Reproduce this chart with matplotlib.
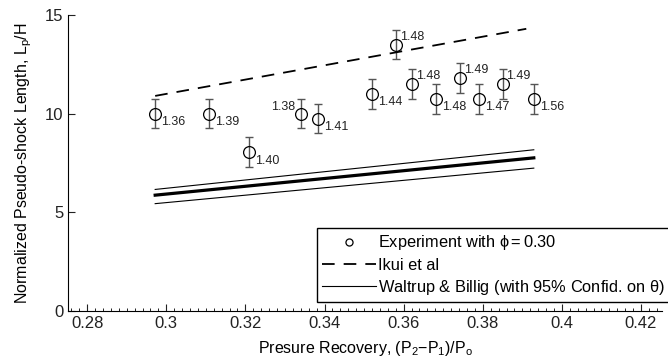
import numpy as np
import matplotlib
matplotlib.use('Agg')
import matplotlib.pyplot as plt

plt.rcParams['font.family'] = ['Liberation Sans', 'DejaVu Sans']
plt.rcParams['mathtext.fontset'] = 'custom'
plt.rcParams['mathtext.rm'] = 'Liberation Sans'
plt.rcParams['mathtext.it'] = 'Liberation Sans'

# Experiment points
x_exp = np.array([0.2972, 0.3109, 0.3209, 0.3340, 0.3383, 0.3520, 0.3580,
                  0.3622, 0.3683, 0.3742, 0.3790, 0.3850, 0.3929])
y_exp = np.array([10.0, 10.0, 8.05, 10.0, 9.75, 11.0, 13.5,
                  11.5, 10.75, 11.8, 10.75, 11.5, 10.75])
y_err = np.array([0.75] * 13)
labels = ['1.36', '1.39', '1.40', '1.38', '1.41', '1.44', '1.48',
          '1.48', '1.48', '1.49', '1.47', '1.49', '1.56']
# where each label sits: br = below right, ar = above right, al = above left
label_pos = ['br', 'br', 'br', 'al', 'br', 'br', 'ar',
             'ar', 'br', 'ar', 'br', 'ar', 'br']

# Ikui et al
x_ikui = np.array([0.2972, 0.3910])
y_ikui = np.array([10.9, 14.3])

# Waltrup & Billig with confidence band
x_wb = np.array([0.2972, 0.3929])
y_wb = np.array([5.87, 7.76])
y_wb_hi = np.array([6.16, 8.17])
y_wb_lo = np.array([5.44, 7.24])

fig = plt.figure(figsize=(6.68, 3.64), dpi=100)
ax = fig.add_axes([0.102, 0.1456, 0.889, 0.8132])

ax.errorbar(x_exp, y_exp, yerr=y_err, fmt='none', ecolor='#555555',
            elinewidth=1, capsize=3, capthick=1)
ax.plot(x_exp, y_exp, 'o', mfc='none', mec='black', ms=8.5, mew=0.9,
        label=r'Experiment with $\phi = 0.30$')
ax.plot(x_ikui, y_ikui, 'k--', lw=1.3, dashes=(7, 5), label='Ikui et al')
ax.plot(x_wb, y_wb, 'k-', lw=2.3)
ax.plot(x_wb, y_wb_hi, 'k-', lw=0.8,
        label=r'Waltrup & Billig (with 95% Confid. on $\theta$)')
ax.plot(x_wb, y_wb_lo, 'k-', lw=0.8)

offsets = {'br': (6, -8.5, 'left'), 'ar': (4, 8, 'left'), 'al': (-6, 7, 'right')}
for xi, yi, lab, p in zip(x_exp, y_exp, labels, label_pos):
    dx, dy, ha = offsets[p]
    ax.annotate(lab, (xi, yi), xytext=(dx * 0.72, dy * 0.72),
                textcoords='offset points', ha=ha, va='center',
                fontsize=9, color='#222222')

ax.set_xlim(0.2752, 0.4253)
ax.set_ylim(0, 15)
ax.set_xticks([0.28, 0.3, 0.32, 0.34, 0.36, 0.38, 0.4, 0.42])
ax.set_xticklabels(['0.28', '0.3', '0.32', '0.34', '0.36', '0.38', '0.4', '0.42'])
ax.set_yticks([0, 5, 10, 15])
ax.set_xticks(np.arange(0.276, 0.4253, 0.002), minor=True)
ax.tick_params(direction='in', labelsize=12, colors='#222222', length=5)
ax.tick_params(which='minor', direction='in', length=2)
ax.spines['top'].set_visible(False)
ax.spines['right'].set_visible(False)

ax.set_xlabel(r'Presure Recovery, (P$_2$$-$P$_1$)/P$_o$', fontsize=11.5, labelpad=6)
ax.set_ylabel(r'Normalized Pseudo-shock Length, L$_p$/H', fontsize=11.5, labelpad=8)

leg = ax.legend(loc='upper left', bbox_to_anchor=(0.419, 0.279), fontsize=11.8,
                frameon=True, fancybox=False, edgecolor='black', framealpha=1,
                handlelength=3.3, handletextpad=0.15, labelspacing=0.33,
                borderpad=0.3, borderaxespad=0, markerscale=0.6)
leg.get_frame().set_linewidth(1)

fig.savefig('out.png', dpi=100)
